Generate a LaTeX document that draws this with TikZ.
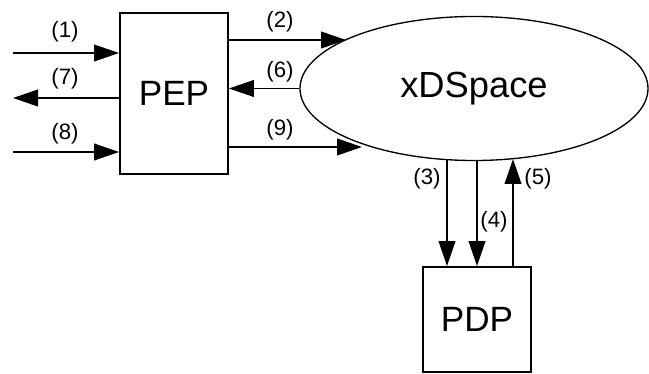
\documentclass[tikz,border=0pt]{standalone}
\usepackage{fontspec}
\setmainfont{Liberation Sans}
\usetikzlibrary{arrows.meta,shapes.geometric}

\begin{document}
\begin{tikzpicture}[x=0.03cm, y=-0.03cm,
		box/.style={draw, line width=0.55mm, inner sep=0, font=\fontsize{30}{30}\selectfont},
		flow/.style={line width=0.55mm, -{Triangle[length=7.5mm,width=5mm]}},
		lbl/.style={inner sep=0, font=\fontsize{19}{19}\selectfont}]
		%%%%% START %%%%%
		
		\useasboundingbox (0, 0) rectangle (649, 374);
		
		\node[box, minimum width=3.24cm, minimum height=4.83cm] (pep) at (174, 93.5) {PEP};
		\node[box, minimum width=3.24cm, minimum height=3.15cm] (pdp) at (477, 319.5) {PDP};
		\node[ellipse, draw, line width=0.4mm, inner sep=0, minimum width=10.44cm, minimum height=4.32cm,
			font=\fontsize{31}{31}\selectfont] (xds) at (474, 88.5) {xDSpace};
		
		\coordinate (in1) at (13, 53);
		\coordinate (out7) at (13, 98);
		\coordinate (in8) at (13, 152);
		\coordinate (e2) at (346, 40);
		\coordinate (e9) at (362, 147);
		\coordinate (e3) at (447, 160);
		\coordinate (e4) at (477, 161);
		\coordinate (e5) at (513, 159);
		
		\draw[flow] (in1) -- (pep.west |- in1);
		\draw[flow] (pep.west |- out7) -- (out7);
		\draw[flow] (in8) -- (pep.west |- in8);
		
		\draw[flow] (pep.east |- e2) -- (e2);
		\draw[flow] (xds.west) -- (pep.east |- xds.west);
		\draw[flow] (pep.east |- e9) -- (e9);
		
		\draw[flow] (e3) -- (e3 |- pdp.north);
		\draw[flow] (e4) -- (e4 |- pdp.north);
		\draw[flow] (e5 |- pdp.north) -- (e5);
		
		\node[lbl] (l1) at (65, 32) {(1)};
		\node[lbl] (l7) at (65, 79) {(7)};
		\node[lbl] (l8) at (65, 134) {(8)};
		\node[lbl] (l2) at (280, 22) {(2)};
		\node[lbl] (l6) at (280, 72) {(6)};
		\node[lbl] (l9) at (280, 130) {(9)};
		\node[lbl] (l3) at (427, 179) {(3)};
		\node[lbl] (l4) at (494, 222) {(4)};
		\node[lbl] (l5) at (538, 179) {(5)};
		
		%%%%% END %%%%%
	\end{tikzpicture}
\end{document}
